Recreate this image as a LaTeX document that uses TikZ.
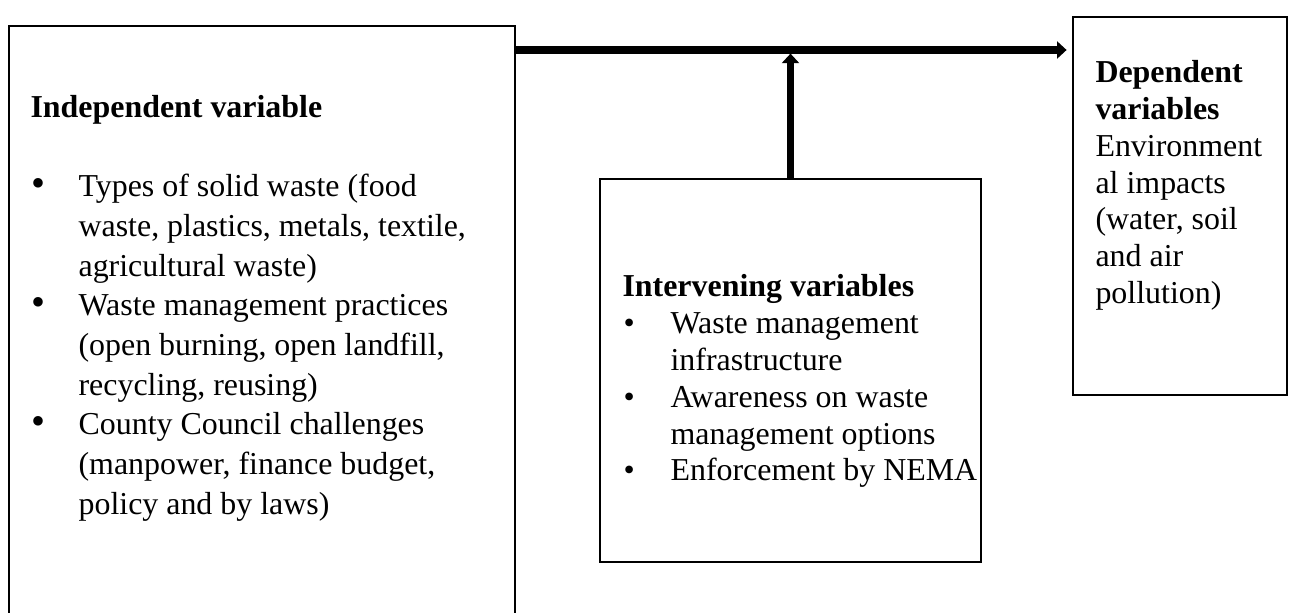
\documentclass[tikz,border=0pt]{standalone}
\usepackage{fontspec}
\setmainfont{Liberation Serif}
\usetikzlibrary{arrows.meta, fit}

\newcommand{\bigdot}{{\fontsize{15}{14.9}\selectfont\textbullet}}

\begin{document}
\begin{tikzpicture}[x=0.376pt, y=-0.376pt,
    box/.style={draw, line width=0.8pt, inner sep=0pt},
    txt/.style={inner sep=0pt, anchor=base west, align=left,
        font=\fontsize{12}{13.8}\selectfont},
    flow/.style={line width=2.7pt, -{Triangle[width=6.4pt, length=3.6pt]}}]
    \useasboundingbox (0,0) rectangle (1294,613);
    \clip (0,0) rectangle (1294,613);

    % the three boxes
    \node[box, fit={(9,26) (515,660)}] (indep) {};
    \node[box, fit={(600,179) (981,562)}] (inter) {};
    \node[box, fit={(1073,17) (1287,395)}] (dep) {};

    % texts
    \node[txt] (indeptitle) at (30,118) {\textbf{Independent variable}};
    \node[txt, font=\fontsize{12}{14.9}\selectfont] (indeplist) at (31,197)
        {\begin{tabular}[t]{@{}p{17.7pt}@{}l@{}}
        \bigdot & Types of solid waste (food\\
                & waste, plastics, metals, textile,\\
                & agricultural waste)\\
        \bigdot & Waste management practices\\
                & (open burning, open landfill,\\
                & recycling, reusing)\\
        \bigdot & County Council challenges\\
                & (manpower, finance budget,\\
                & policy and by laws)
    \end{tabular}};

    \node[txt] (intertitle) at (622,297) {\textbf{Intervening variables}};
    \node[txt] (interlist) at (623,334) {\begin{tabular}[t]{@{}p{17.7pt}@{}l@{}}
        \textbullet & Waste management\\
                    & infrastructure\\
        \textbullet & Awareness on waste\\
                    & management options\\
        \textbullet & Enforcement by NEMA
    \end{tabular}};

    \node[txt] (deptext) at (1095,83) {\begin{tabular}[t]{@{}l@{}}
        \textbf{Dependent}\\ \textbf{variables}\\
        Environment\\ al impacts\\ (water, soil\\ and air\\ pollution)
    \end{tabular}};

    % arrows
    \coordinate (bar) at (790,50);
    \draw[flow, shorten >=2pt] (indep.east |- bar) -- (dep.west |- bar);
    \draw[flow, shorten >=1.35pt] (inter.north) -- (inter.north |- bar);
\end{tikzpicture}
\end{document}
